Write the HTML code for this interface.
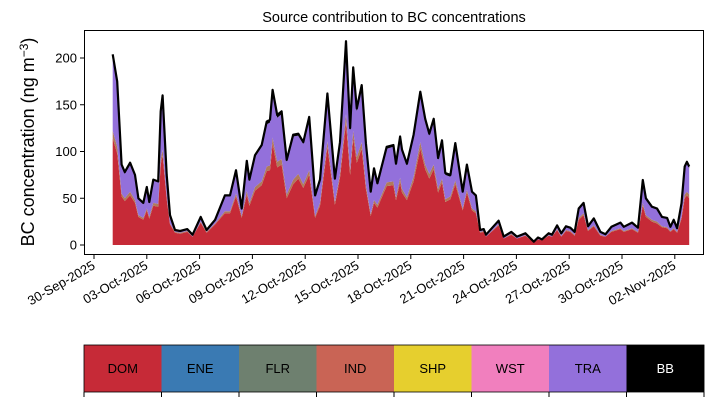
<!DOCTYPE html>
<html><head><meta charset="utf-8"><style>
html,body{margin:0;padding:0;background:#fff;}
svg{display:block;font-family:"Liberation Sans",sans-serif;}
</style></head><body>
<svg id="c" width="714" height="402" viewBox="0 0 714 402">
<text x="394" y="22" text-anchor="middle" font-size="14.5">Source contribution to BC concentrations</text>
<text transform="translate(34,142) rotate(-90)" text-anchor="middle" font-size="18">BC concentration (ng m<tspan dy="-6" font-size="12">−3</tspan><tspan dy="6">)</tspan></text>
<g id="plot"></g>
<g id="legend"></g>
</svg>
<script>
const days=[1.06,1.32,1.57,1.75,2.05,2.33,2.52,2.80,3.00,3.14,3.37,3.65,3.79,3.90,4.13,4.32,4.60,4.89,5.30,5.60,6.06,6.40,6.88,7.44,7.73,8.07,8.39,8.68,8.83,9.15,9.53,9.81,10.0,10.15,10.41,10.66,10.95,11.32,11.61,11.89,12.23,12.56,12.84,13.26,13.69,13.98,14.32,14.55,14.73,14.93,15.21,15.45,15.72,15.91,16.10,16.63,17.01,17.16,17.39,17.50,17.78,18.16,18.54,18.82,19.05,19.30,19.55,19.77,19.96,20.25,20.53,20.95,21.19,21.48,21.70,21.94,22.14,22.27,22.99,23.28,23.71,24.03,24.51,24.99,25.23,25.45,25.83,26.02,26.31,26.55,26.82,27.06,27.31,27.54,27.82,28.07,28.40,28.77,29.06,29.40,29.91,30.10,30.57,30.91,31.18,31.36,31.70,31.99,32.27,32.56,32.75,32.94,33.13,33.38,33.56,33.69,33.82];
const dom=[114,98,52,47,53,45,30,27,37,28,42,41,86,96,49,22,13,12,14,9,24,13,22,34,34,52,29,54,42,58,64,79,80,108,83,86,50,65,71,61,75,29,42,105,43,72,131,75,114,88,103,60,31,45,40,63,64,48,67,56,48,68,103,81,71,81,56,67,46,49,65,37,56,37,34,13,14,9,21,7,11,7,10,3,6,5,10,9,16,9,15,14,10,27,32,15,20,10,9,14,17,14,17,13,42,30,25,23,19,18,14,17,13,28,50,53,50];
const minor=[8,7,3,3,4,3,2,2,2,2,3,3,6,6,3,1,1,1,1,0,1,1,1,2,2,3,2,4,3,4,4,5,5,7,6,6,4,5,5,4,5,2,3,6,3,4,9,5,8,6,7,4,2,3,3,4,4,3,5,4,3,5,7,5,5,5,4,4,3,3,4,2,3,2,2,1,1,0,1,0,1,0,0.5,0,0,0,0.5,0,1,0.5,1,1,1,2,2,1,1,1,0,1,1,1,1,1,3,2,2,2,1,1,1,1,1,2,4,4,4];
const tra=[78,66,29,26,29,25,17,15,22,15,24,23,48,55,21,8,2,2,2,2,4,2,3,16,16,23,7,30,24,32,37,45,46,48,47,48,35,46,41,43,54,21,24,48,24,32,74,42,64,49,58,43,23,32,22,36,37,34,42,40,34,43,51,46,41,46,31,39,26,21,38,17,25,17,16,2,2,2,3,2,2,2,2,0.5,2,1,2,2,4,3,4,3.5,3,9,10,4,6.5,3,2.5,4.5,6,4.5,6,4.5,23.5,17,13,13,9,9,4.5,8,4,13.6,28,30,28];
const bb=[4,4,2,2,2,2,1,1,1,1,1,1,3,3,2,1,0,0,0,0,1,0,1,1,1,2,1,2,1,2,2,3,3,3,3,3,2,2,2,2,3,1,1,3,1,2,4,3,4,3,3,2,1,2,1,2,2,2,2,2,2,2,3,3,2,3,2,2,2,2,2,1,2,1,1,0,0,0,1,0,0,0,0,0,0,0,0,0,0,0,0,0,0,1,1,0,1,0,0,0,0,0,0,0,1,1,1,1,1,1,0,1,0,1,2,2,2];
const yTicks=[0,50,100,150,200];
const xTickLabels=["30-Sep-2025","03-Oct-2025","06-Oct-2025","09-Oct-2025","12-Oct-2025","15-Oct-2025","18-Oct-2025","21-Oct-2025","24-Oct-2025","27-Oct-2025","30-Oct-2025","02-Nov-2025"];
const xTickDays=[0,3,6,9,12,15,18,21,24,27,30,33];
const sources=["DOM","ENE","FLR","IND","SHP","WST","TRA","BB"];
const colors=["#c62a37","#3a7ab3","#6e806f","#c96455","#e6cf2e","#f17fbe","#9370db","#000000"];

const NS="http://www.w3.org/2000/svg";
const L=84,R=704,T=30,B=255;
const x=d=>94+d*17.6;
const y=v=>245-v*0.935;
function mk(tag,attrs,parent){const e=document.createElementNS(NS,tag);for(const k in attrs)e.setAttribute(k,attrs[k]);parent.appendChild(e);return e;}
const plot=document.getElementById('plot');

const layers=[{v:dom,c:colors[0],n:"dom-area"},{v:minor,c:"#b07a5a",n:"minor-sources-area"},{v:tra,c:colors[6],n:"tra-area"},{v:bb,c:colors[7],n:"bb-area"}];
let base=days.map(()=>0);
layers.forEach(l=>{
  const top=base.map((b,i)=>b+l.v[i]);
  let d="M"+days.map((t,i)=>x(t).toFixed(1)+","+y(top[i]).toFixed(1)).join("L");
  for(let i=days.length-1;i>=0;i--)d+="L"+x(days[i]).toFixed(1)+","+y(base[i]).toFixed(1);
  const p=mk('path',{d:d+"Z",fill:l.c},plot);
  
  
  base=top;
});
const tl=mk('path',{d:"M"+days.map((t,i)=>x(t).toFixed(1)+","+y(base[i]).toFixed(1)).join("L"),fill:"none",stroke:"#000","stroke-width":2.2,"stroke-linejoin":"round"},plot);



const fr=mk('rect',{x:L+0.5,y:T+0.5,width:R-L-1,height:B-T-1,fill:"none",stroke:"#000","stroke-width":1},plot);



yTicks.forEach(v=>{
  const yy=y(v);
  const t=mk('line',{x1:L-4,x2:L,y1:yy,y2:yy,stroke:"#000"},plot);
  
  
  const tx=mk('text',{x:L-7,y:yy+4.5,"text-anchor":"end","font-size":13},plot);
  
  
  tx.textContent=v;
});
xTickDays.forEach((d,i)=>{
  const xx=x(d);
  const t=mk('line',{x1:xx,x2:xx,y1:B,y2:B+4,stroke:"#000"},plot);
  
  
  const tx=mk('text',{transform:`translate(${xx+2},${B+13}) rotate(-30)`,"text-anchor":"end","font-size":13},plot);
  
  
  tx.textContent=xTickLabels[i];
});

const lg=document.getElementById('legend');
const lx=84,lw=620,ly=345,lh=47,bw=lw/sources.length;
sources.forEach((s,i)=>{
  const r=mk('rect',{x:lx+i*bw,y:ly,width:bw+0.3,height:lh,fill:colors[i]},lg);
  
  
  const t=mk('text',{x:lx+i*bw+bw/2,y:ly+lh/2+4.5,"text-anchor":"middle","font-size":13,fill:s==="BB"?"#fff":"#000"},lg);
  
  
  t.textContent=s;
});
for(let i=0;i<=sources.length;i++){
  const xx=lx+i*bw;
  const t=mk('line',{x1:xx,x2:xx,y1:ly+lh,y2:ly+lh+5,stroke:"#000"},lg);
  
  
}
const lf=mk('rect',{x:lx,y:ly,width:lw,height:lh,fill:"none",stroke:"#000","stroke-width":0.8},lg);


</script>
</body></html>
